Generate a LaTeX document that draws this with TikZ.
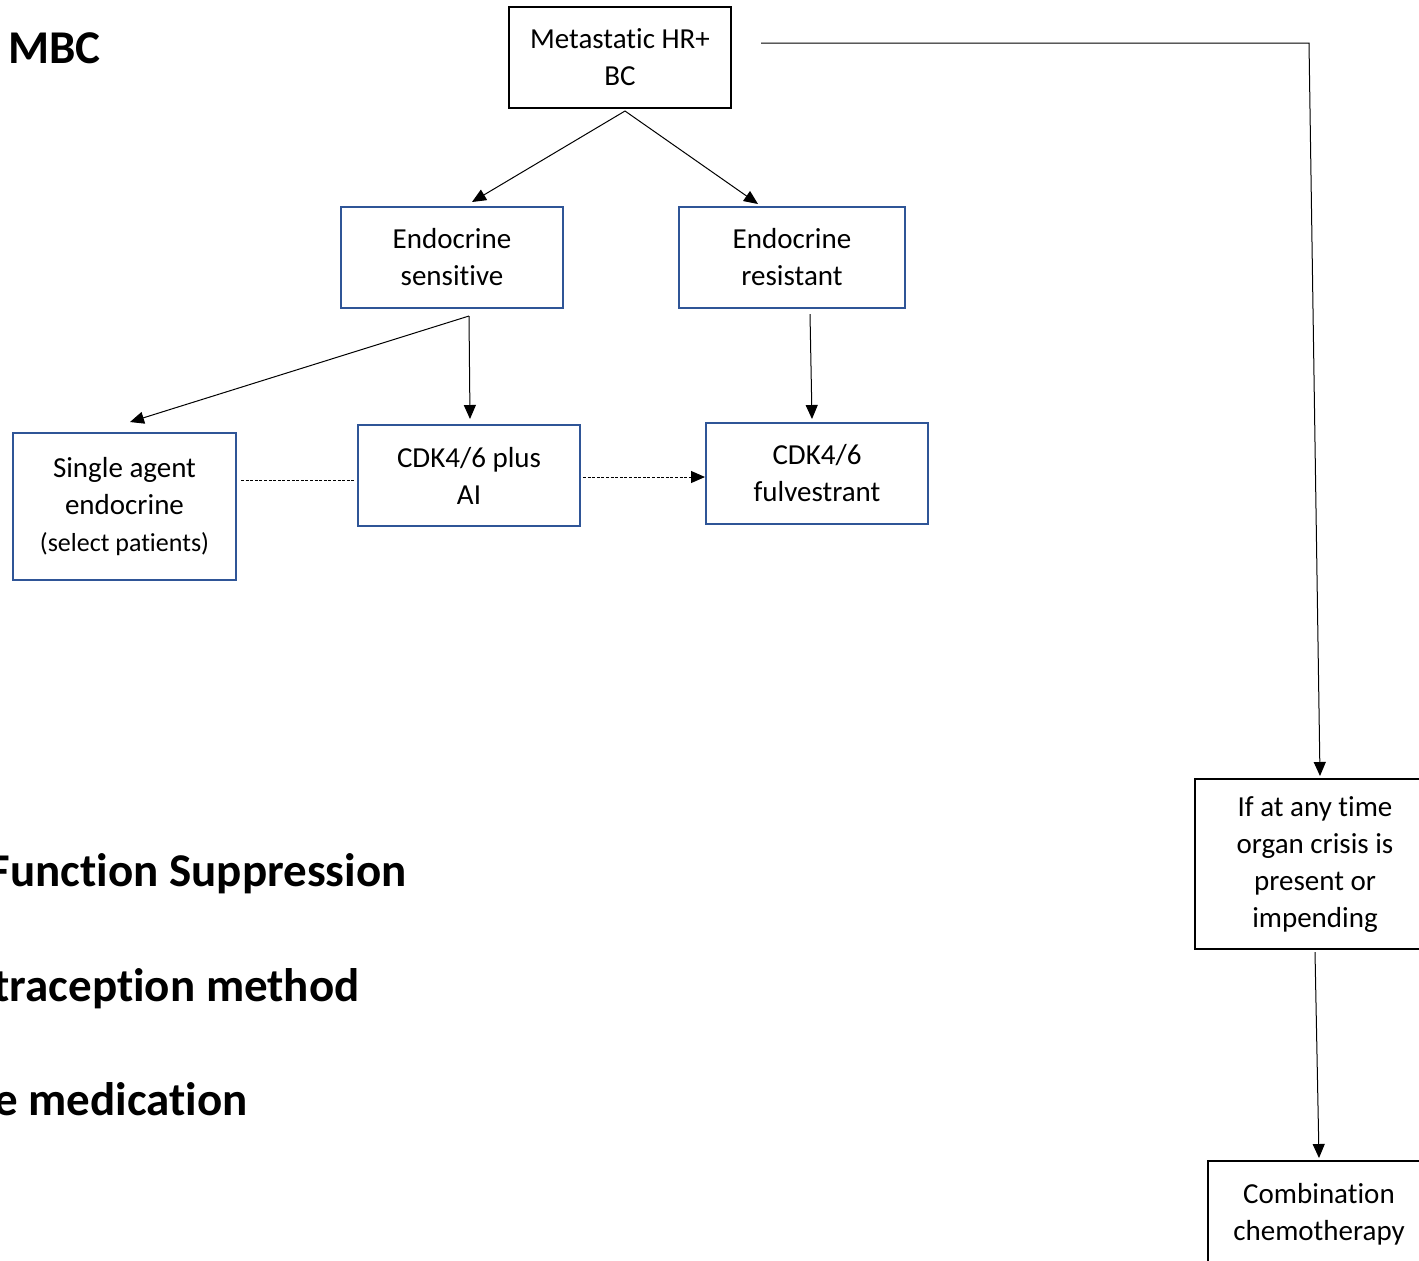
\documentclass[tikz,border=0pt]{standalone}
\usepackage{fontspec}
\setmainfont[Ligatures=NoCommon]{Carlito}
\usetikzlibrary{arrows.meta}
\definecolor{boxblue}{HTML}{2F5597}

\begin{document}
\begin{tikzpicture}[x=0.5pt,y=-0.5pt,
    box/.style={draw,line width=1pt,align=center,inner sep=0pt,font=\fontsize{14.5}{18.5}\selectfont},
    bluebox/.style={box,draw=boxblue},
    arr/.style={line width=0.5pt,-{Triangle[length=7pt,width=6pt]}},
    dots/.style={line width=0.5pt,dash pattern=on 1.5pt off 0.8pt},
    heading/.style={font=\fontsize{23.5}{28}\selectfont\bfseries,inner sep=0pt}]
    \useasboundingbox (0,0) rectangle (1419,1260);
    \clip (0,0) rectangle (1419,1260);
            % headings on the left
            \node[heading,anchor=base west] (mbc) at (8,63) {MBC};
            \node[heading,anchor=base east] (ofs) at (407,886) {Function Suppression};
            \node[heading,anchor=base east] (contra) at (360,1001) {traception method};
            \node[heading,anchor=base east] (med) at (248,1115) {e medication};
            % boxes
            \node[box,minimum width=111pt,minimum height=50.5pt] (meta) at (620,57.5) {Metastatic HR+\\BC};
            \node[bluebox,minimum width=111pt,minimum height=50.5pt] (sens) at (452,257.5) {Endocrine\\sensitive};
            \node[bluebox,minimum width=113pt,minimum height=50.5pt] (res) at (792,257.5) {Endocrine\\resistant};
            \node[bluebox,minimum width=111.5pt,minimum height=73.5pt] (single) at (124.5,506.5) {Single agent\\endocrine\\{\fontsize{13}{17}\selectfont (select patients)}};
            \node[bluebox,minimum width=111pt,minimum height=50.5pt] (cdkai) at (469,475.5) {CDK4/6 plus\\AI};
            \node[bluebox,minimum width=111pt,minimum height=50.5pt] (fulv) at (817,473.5) {CDK4/6\\fulvestrant};
            \node[box,minimum width=120pt,minimum height=85pt] (crisis) at (1315,864) {If at any time\\organ crisis is\\present or\\impending};
            \node[box,minimum width=111pt,minimum height=53.5pt] (combo) at (1319,1214.5) {Combination\\chemotherapy};
            % connectors
            \draw[arr] ([xshift=2.5pt,yshift=-1pt]meta.south) -- ([xshift=10pt,yshift=2pt]sens.north);
            \draw[arr] ([xshift=2.5pt,yshift=-1pt]meta.south) -- ([xshift=-17pt,yshift=1pt]res.north);
            \draw[arr] ([xshift=8.5pt,yshift=-3.5pt]sens.south) -- ([xshift=2.75pt,yshift=5pt]single.north);
            \draw[arr] ([xshift=8.5pt,yshift=-3.5pt]sens.south) -- ([xshift=0.5pt,yshift=2.5pt]cdkai.north);
            \draw[arr] ([xshift=9pt,yshift=-2.5pt]res.south) -- ([xshift=-2.5pt,yshift=1.5pt]fulv.north);
            \draw[dots] ([xshift=2pt,yshift=13.25pt]single.east) -- ([xshift=-1pt,yshift=-2.25pt]cdkai.west);
            \draw[dots,-{Triangle[length=7pt,width=6pt]}] ([xshift=1pt,yshift=-0.75pt]cdkai.east) -- ([yshift=-1.75pt]fulv.west);
            \coordinate (bend) at (1309,43);
            \draw[arr] ([xshift=14.5pt,yshift=7.25pt]meta.east) -- (bend) -- ([xshift=2.5pt,yshift=1pt]crisis.north);
            \draw[arr] ([yshift=-1pt]crisis.south) -- ([yshift=1pt]combo.north);
\end{tikzpicture}
\end{document}
